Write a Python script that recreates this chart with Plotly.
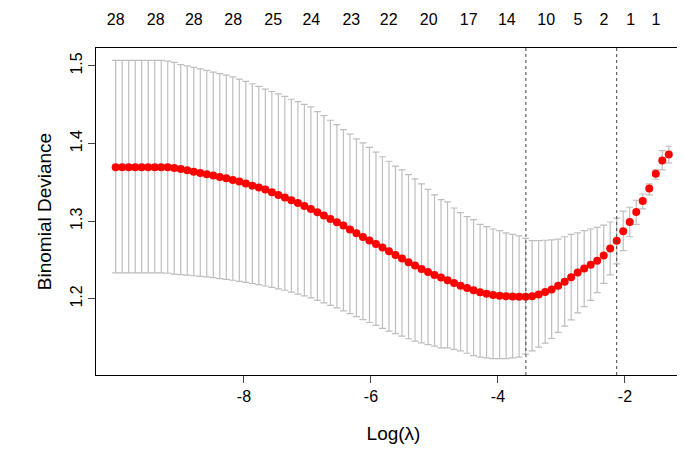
import numpy as np
import plotly.graph_objects as go

# log(lambda) grid of the cv fit (86 lambdas, evenly spaced in log scale)
log_lambda = np.round(np.linspace(-10.02, -1.31, 86), 4)

cvm = [1.3695] * 9 + [
    1.3686, 1.3673, 1.3656, 1.3638, 1.3622, 1.3605, 1.3587, 1.3570, 1.3553, 1.3532,
    1.3510, 1.3484, 1.3458, 1.3433, 1.3407, 1.3373, 1.3338, 1.3304, 1.3270, 1.3236,
    1.3197, 1.3158, 1.3116, 1.3072, 1.3030, 1.2987, 1.2944, 1.2892, 1.2845, 1.2798,
    1.2751, 1.2708, 1.2660, 1.2614, 1.2566, 1.2519, 1.2472, 1.2429, 1.2386, 1.2347,
    1.2309, 1.2274,
    1.224, 1.2205, 1.217, 1.214, 1.211, 1.2085, 1.2065, 1.205, 1.204, 1.2035,
    1.203, 1.2028, 1.2026, 1.2035, 1.2055, 1.209, 1.212, 1.217, 1.222, 1.228,
    1.234, 1.239, 1.244, 1.249, 1.256, 1.265, 1.275, 1.287, 1.299, 1.312,
    1.326, 1.342, 1.361, 1.378, 1.386,
]

cvup = [1.507] * 8 + [
    1.506, 1.5045, 1.5016, 1.500, 1.498, 1.496, 1.4943, 1.492, 1.490, 1.488,
    1.4857, 1.483, 1.480, 1.477, 1.4737, 1.470, 1.467, 1.464, 1.4608, 1.457,
    1.454, 1.4505, 1.4471, 1.441, 1.436, 1.430, 1.4243, 1.418, 1.412, 1.406,
    1.4008, 1.395, 1.389, 1.383, 1.3772, 1.371, 1.366, 1.360, 1.3544, 1.348,
    1.341, 1.334, 1.3278,
    1.325, 1.317, 1.311, 1.306, 1.302, 1.296, 1.293, 1.290, 1.288, 1.285,
    1.283, 1.281, 1.278, 1.275, 1.275, 1.2755, 1.276, 1.277, 1.280, 1.283,
    1.285, 1.288, 1.290, 1.292, 1.295, 1.299, 1.304, 1.313, 1.318, 1.327,
    1.335, 1.348, 1.366, 1.391, 1.3965,
]

cvlo = [1.2335] * 8 + [
    1.233, 1.232, 1.2313, 1.2305, 1.2298, 1.229, 1.2283, 1.2273, 1.2262, 1.2251,
    1.224, 1.2226, 1.2212, 1.2198, 1.2184, 1.2166, 1.2148, 1.2129, 1.2111, 1.2087,
    1.2062, 1.2038, 1.2013, 1.1981, 1.1948, 1.1916, 1.1884, 1.1846, 1.1809, 1.1771,
    1.1734, 1.1696, 1.1659, 1.1621, 1.1584, 1.1552, 1.1520, 1.1487, 1.1455, 1.1434,
    1.1412, 1.1391, 1.1369,
    1.137, 1.135, 1.133, 1.130, 1.127, 1.125, 1.124, 1.123, 1.123, 1.123,
    1.124, 1.125, 1.129, 1.133, 1.138, 1.143, 1.149, 1.157, 1.165, 1.173,
    1.182, 1.190, 1.198, 1.208, 1.220, 1.231, 1.245, 1.262, 1.280, 1.296,
    1.316, 1.334, 1.354, 1.366, 1.375,
]

lambda_min = -3.56
lambda_1se = -2.13

nzero_pos = [-10.02, -9.39, -8.79, -8.17, -7.54, -6.94, -6.31, -5.72, -5.09,
             -4.46, -3.86, -3.24, -2.74, -2.33, -1.91, -1.51]
nzero_lab = ["28", "28", "28", "28", "25", "24", "23", "22", "20",
             "17", "14", "10", "5", "2", "1", "1"]

x_ticks = [-8, -6, -4, -2]
y_ticks = [1.2, 1.3, 1.4, 1.5]

cvm_a = np.array(cvm)
fig = go.Figure()
fig.add_trace(go.Scatter(
    x=log_lambda, y=cvm_a, mode="markers",
    marker=dict(color="red", size=8),
    error_y=dict(type="data", symmetric=False,
                 array=np.array(cvup) - cvm_a, arrayminus=cvm_a - np.array(cvlo),
                 color="#bebebe", thickness=1.2, width=3.5),
    showlegend=False,
))
# invisible trace to carry the top axis
fig.add_trace(go.Scatter(x=[log_lambda[0]], y=[cvm[0]], xaxis="x2",
                         mode="markers", marker=dict(opacity=0), showlegend=False,
                         hoverinfo="skip"))

for v in (lambda_min, lambda_1se):
    fig.add_vline(x=v, line=dict(color="#444444", width=1, dash="dot"))

font = dict(family="Liberation Sans, Arial, sans-serif", size=16, color="black")
fig.update_layout(
    width=685, height=450,
    paper_bgcolor="white", plot_bgcolor="white",
    margin=dict(l=88, r=2, t=40, b=83),
    font=font,
    xaxis=dict(range=[-10.33, -0.96], tickvals=x_ticks,
               ticktext=[str(t) for t in x_ticks], automargin=False,
               ticks="outside", ticklen=7, showgrid=False, zeroline=False,
               showline=True, linecolor="black", mirror=True,
               title=dict(text="Log(λ)", standoff=22)),
    xaxis2=dict(overlaying="x", side="top", matches="x", automargin=False,
                tickvals=nzero_pos, ticktext=nzero_lab, ticks="outside",
                ticklen=16, tickcolor="rgba(0,0,0,0)",
                showgrid=False, zeroline=False, showline=False),
    yaxis=dict(range=[1.102, 1.523], tickvals=y_ticks, automargin=False,
               ticktext=[f"{t:.1f}" for t in y_ticks], tickangle=-90,
               ticks="outside", ticklen=7, showgrid=False, zeroline=False,
               showline=True, linecolor="black", mirror=True,
               title=dict(text="Binomial Deviance", standoff=10)),
)

fig.write_html("out.html")
